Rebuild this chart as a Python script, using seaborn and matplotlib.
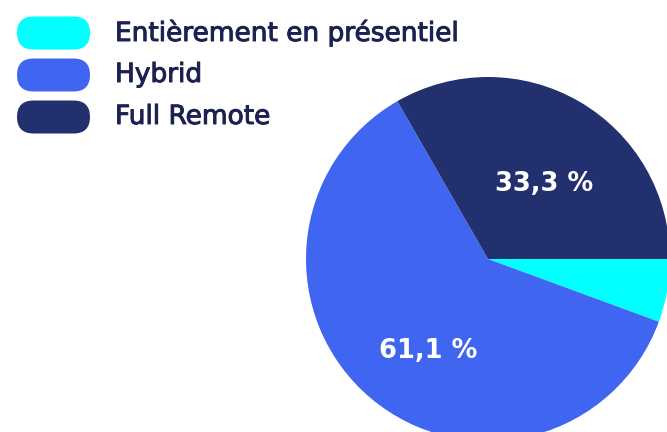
import matplotlib
matplotlib.use("Agg")
import matplotlib.pyplot as plt
import matplotlib.patheffects as pe
import seaborn as sns
from matplotlib.patches import FancyBboxPatch

# Data
categories = ["Entièrement en présentiel", "Hybrid", "Full Remote"]
shares = [5.6, 61.1, 33.3]
colors = ["#00FFFF", "#4065F0", "#22306F"]

sns.set_theme(style="white")
plt.rcParams["font.family"] = ["DejaVu Sans"]

W, H = 667, 432
fig = plt.figure(figsize=(W / 100, H / 100), dpi=100)

# Pie axes placed so the pie overflows the right/bottom edges like the original
cx, cy, r = 488, 259, 182
ax = fig.add_axes([(cx - r) / W, (H - cy - r) / H, 2 * r / W, 2 * r / H])


def fmt_pct(p):
    # hide the label of the tiny slice, use a French decimal comma
    if p < 10:
        return ""
    return f"{p:.1f} %".replace(".", ",")


wedges, texts, autotexts = ax.pie(
    shares,
    colors=colors,
    startangle=0,
    counterclock=False,
    autopct=fmt_pct,
    pctdistance=0.56,
    radius=1,
    wedgeprops=dict(linewidth=0),
    textprops=dict(color="white", fontsize=18.5, fontweight="bold"),
)
# nudge labels a bit lower, as in the original
for t in autotexts:
    x, y = t.get_position()
    t.set_position((x + 0.03, y - 0.075))
ax.set_xlim(-1, 1)
ax.set_ylim(-1, 1)
ax.set_aspect("equal")
ax.axis("off")

# Hand-made legend with pill shaped swatches (1 unit = 1 pixel)
lax = fig.add_axes([0, 0, 1, 1])
lax.set_xlim(0, W)
lax.set_ylim(0, H)
lax.axis("off")
for i, (label, color) in enumerate(zip(categories, colors)):
    yc = H - (33 + i * 42)
    lax.add_patch(FancyBboxPatch((17, yc - 16.5), 73, 33,
                                 boxstyle="round,pad=0,rounding_size=16.5",
                                 facecolor=color, edgecolor="none"))
    lax.text(115, yc, label, fontsize=19, color="#1B2150",
             va="center", ha="left",
             path_effects=[pe.withStroke(linewidth=0.7, foreground="#1B2150")])

fig.savefig("out.png", dpi=100)
